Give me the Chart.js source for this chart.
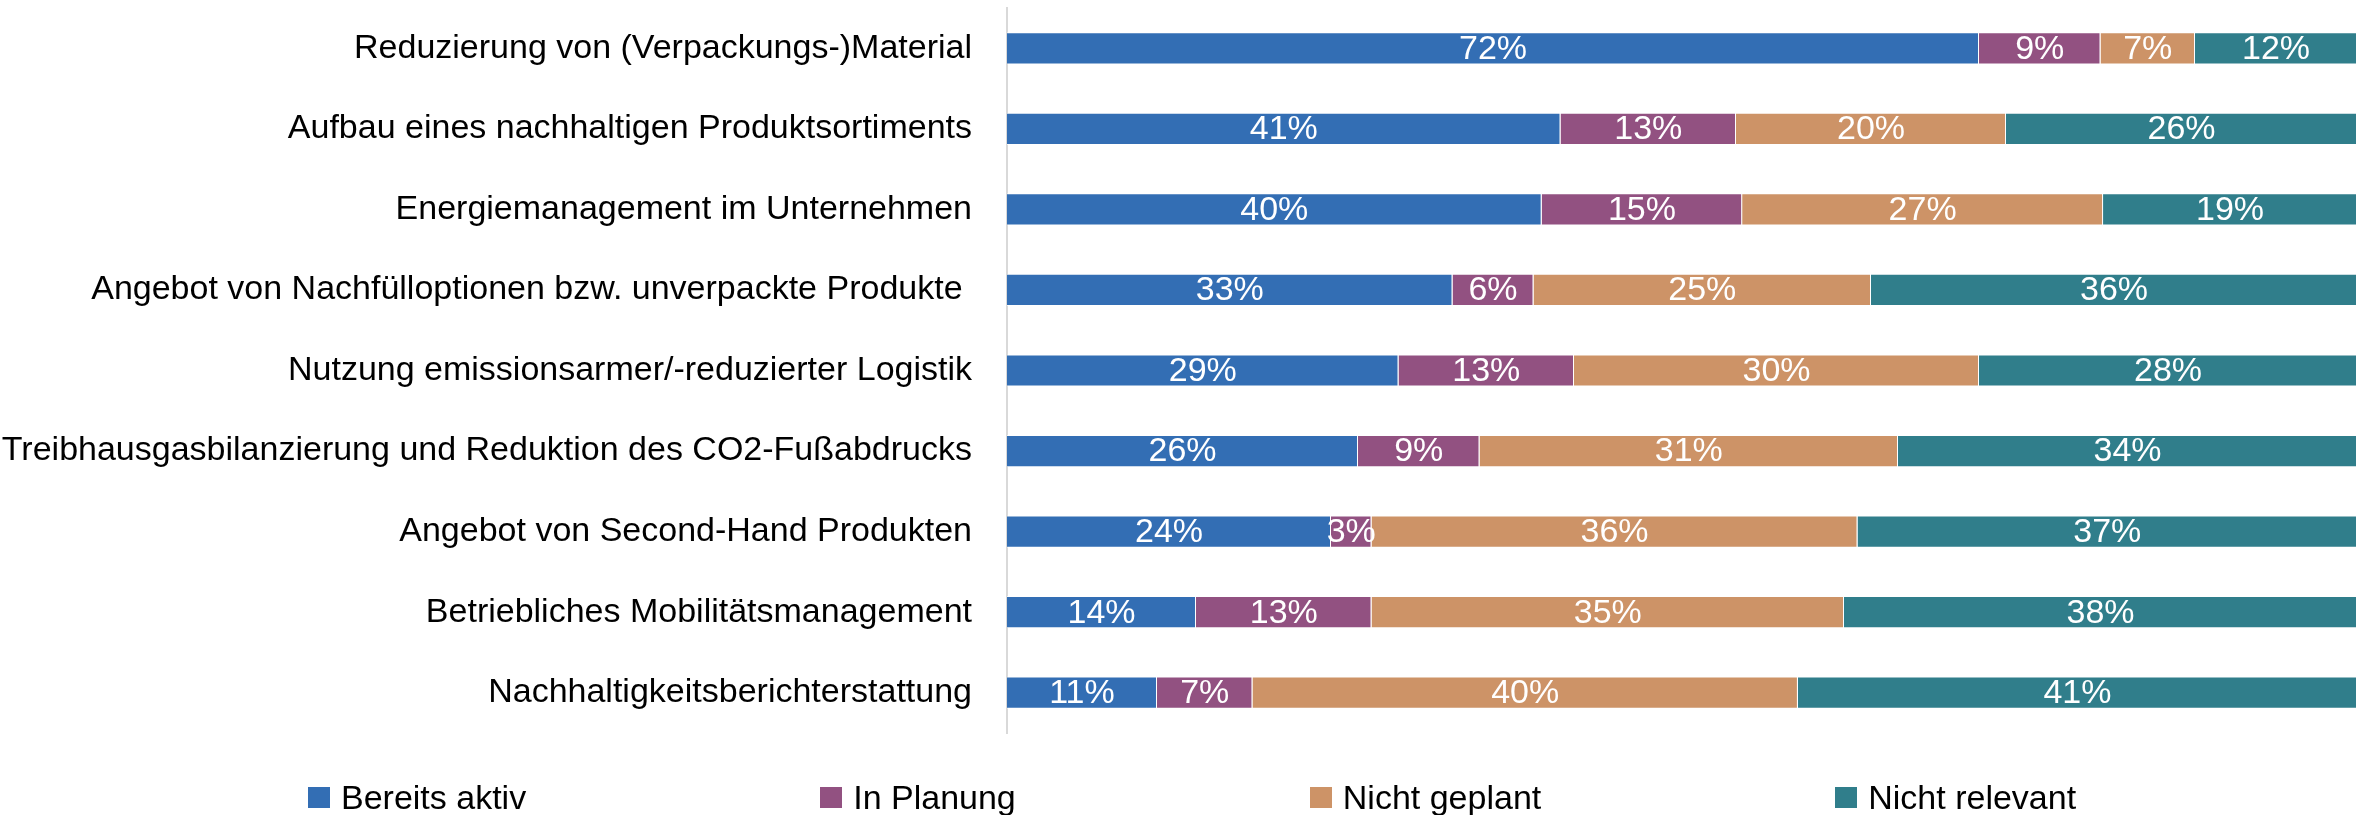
<!DOCTYPE html>
<html>
<head>
<meta charset="utf-8">
<script src="https://cdn.jsdelivr.net/npm/chart.js@4"></script>
<style>
  html, body { margin: 0; padding: 0; background: #fff; overflow: hidden; }
  #wrap { position: relative; width: 2369px; height: 815px; }
  #chart { display: block; }
  #legend {
    position: absolute; left: 308px; top: 780px;
    display: flex; gap: 294px; align-items: center;
    font: 34px "Liberation Sans", Arial, sans-serif; line-height: 34px; color: #000;
  }
  #legend .item { display: flex; align-items: center; white-space: nowrap; }
  #legend .box { width: 22px; height: 21px; margin-right: 11px; }
</style>
</head>
<body>
<div id="wrap">
  <canvas id="chart" width="2369" height="815"></canvas>
  <div id="legend"></div>
</div>
<script>
const categories = [
  "Reduzierung von (Verpackungs-)Material",
  "Aufbau eines nachhaltigen Produktsortiments",
  "Energiemanagement im Unternehmen",
  "Angebot von Nachfülloptionen bzw. unverpackte Produkte ",
  "Nutzung emissionsarmer/-reduzierter Logistik",
  "Treibhausgasbilanzierung und Reduktion des CO2-Fußabdrucks",
  "Angebot von Second-Hand Produkten",
  "Betriebliches Mobilitätsmanagement",
  "Nachhaltigkeitsberichterstattung"
]

const seriesNames = ["Bereits aktiv", "In Planung", "Nicht geplant", "Nicht relevant"]
const seriesColors = ["#336EB4", "#925181", "#CD9367", "#307E8B"]

const bereitsAktiv  = [72, 41, 40, 33, 29, 26, 24, 14, 11]
const inPlanung     = [9, 13, 15, 6, 13, 9, 3, 13, 7]
const nichtGeplant  = [7, 20, 27, 25, 30, 31, 36, 35, 40]
const nichtRelevant = [12, 26, 19, 36, 28, 34, 37, 38, 41]

const series = [bereitsAktiv, inPlanung, nichtGeplant, nichtRelevant]

// each bar is stretched to 100 %, labels keep the rounded values
const rowTotals = categories.map((c, i) => series.reduce((s, arr) => s + arr[i], 0))

const FONT = '"Liberation Sans", Arial, sans-serif'

const segmentLabels = {
  id: "segmentLabels",
  afterDatasetsDraw(chart) {
    const ctx = chart.ctx
    ctx.save()
    ctx.font = "34px " + FONT
    ctx.fillStyle = "#fff"
    ctx.textAlign = "center"
    ctx.textBaseline = "middle"
    chart.data.datasets.forEach((ds, di) => {
      chart.getDatasetMeta(di).data.forEach((bar, i) => {
        const cx = (bar.x + bar.base) / 2
        ctx.fillText(ds.raw[i] + "%", cx, bar.y + 1)
      })
    })
    ctx.restore()
  }
}

const datasets = series.map((values, s) => ({
  label: seriesNames[s],
  raw: values,
  data: values.map((v, i) => v / rowTotals[i] * 100),
  backgroundColor: seriesColors[s],
  borderColor: "rgba(255,255,255,0.7)",
  borderWidth: 1,
  barPercentage: 0.4,
  categoryPercentage: 1
}))

new Chart(document.getElementById("chart"), {
  type: "bar",
  data: { labels: categories, datasets: datasets },
  options: {
    indexAxis: "y",
    responsive: false,
    animation: false,
    layout: { padding: { top: 8, right: 12, bottom: 82, left: 0 } },
    plugins: {
      legend: { display: false },
      tooltip: { enabled: false }
    },
    scales: {
      x: {
        stacked: true,
        min: 0,
        max: 100,
        display: false
      },
      y: {
        stacked: true,
        grid: { display: false, drawTicks: false },
        border: { display: true, color: "#d9d9d9", width: 2 },
        ticks: {
          color: "#000",
          padding: 35,
          font: { family: FONT, size: 34 }
        },
        afterFit(scale) {
          scale.width = 1007
          scale.paddingTop = 0
          scale.paddingBottom = 0
        }
      }
    }
  },
  plugins: [segmentLabels]
})

const legendEl = document.getElementById("legend")
seriesNames.forEach((name, s) => {
  const item = document.createElement("div")
  item.className = "item"
  const box = document.createElement("span")
  box.className = "box"
  box.style.background = seriesColors[s]
  item.appendChild(box)
  item.appendChild(document.createTextNode(name))
  legendEl.appendChild(item)
})
</script>
</body>
</html>
